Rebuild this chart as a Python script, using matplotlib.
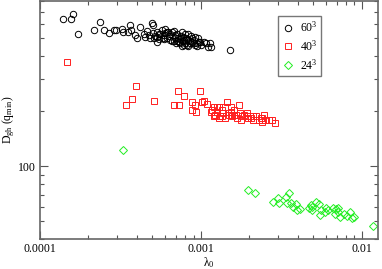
import matplotlib
matplotlib.use("Agg")
import matplotlib.pyplot as plt
from matplotlib.ticker import FixedLocator, FixedFormatter, NullFormatter, LogLocator

plt.rcParams['font.family'] = ['Liberation Serif', 'DejaVu Serif']
plt.rcParams['mathtext.fontset'] = 'custom'
plt.rcParams['mathtext.rm'] = 'Liberation Serif'
plt.rcParams['mathtext.it'] = 'Liberation Serif:italic'

# 60^3 series
x60 = [1.38e-4, 1.55e-4, 1.6e-4, 1.73e-4, 2.18e-4, 2.35e-4, 2.49e-4, 2.7e-4, 2.87e-4, 2.98e-4,
       3.24e-4, 3.28e-4, 3.65e-4, 3.7e-4, 3.9e-4, 4.0e-4, 4.2e-4, 4.6e-4, 4.73e-4, 4.97e-4,
       5.05e-4, 5.05e-4, 5.1e-4, 5.35e-4, 5.46e-4, 5.73e-4, 5.87e-4, 6.14e-4, 6.2e-4, 6.47e-4,
       6.6e-4, 6.8e-4, 6.94e-4, 7.1e-4, 7.3e-4, 7.45e-4, 7.6e-4, 7.75e-4, 8.0e-4, 8.2e-4,
       8.35e-4, 8.6e-4, 8.8e-4, 9.0e-4, 9.2e-4, 9.45e-4, 9.7e-4, 1.08e-3, 1.1e-3, 1.14e-3,
       1.16e-3, 1.51e-3, 5.6e-4, 6.0e-4, 6.8e-4, 7.45e-4, 8.0e-4, 8.2e-4, 8.8e-4, 9.9e-4,
       7.1e-4, 6.47e-4, 5.87e-4, 5.35e-4, 7.75e-4, 8.35e-4, 9.2e-4, 4.4e-4, 6.14e-4, 7.6e-4,
       4.8e-4, 5.2e-4, 5.5e-4, 5.8e-4, 6.3e-4, 6.6e-4, 6.9e-4, 7.2e-4, 7.5e-4, 7.9e-4,
       8.1e-4, 8.5e-4, 8.7e-4, 9.1e-4, 9.6e-4, 1.0e-3, 1.05e-3, 6.0e-4, 7.0e-4, 7.8e-4,
       8.3e-4, 9.4e-4, 5.3e-4, 4.5e-4, 3.5e-4]
y60 = [640, 640, 680, 530, 557, 615, 557, 533, 557, 557,
       565, 540, 590, 557, 520, 505, 575, 545, 520, 610,
       595, 535, 505, 540, 495, 557, 520, 500, 540, 525,
       485, 550, 505, 528, 478, 495, 540, 510, 470, 495,
       528, 485, 500, 470, 510, 455, 478, 470, 450, 470,
       450, 430, 528, 532, 485, 470, 528, 462, 478, 478,
       485, 488, 495, 510, 485, 488, 462, 528, 540, 455,
       500, 515, 530, 505, 515, 540, 520, 500, 515, 490,
       505, 470, 515, 490, 500, 460, 480, 560, 470, 460,
       455, 470, 475, 510, 540]

# 40^3 series
x40 = [1.48e-4, 3.93e-4, 3.74e-4, 3.4e-4, 5.13e-4, 7.2e-4, 7.8e-4, 6.85e-4, 7.35e-4, 9.93e-4,
       8.8e-4, 9.2e-4, 8.8e-4, 9.3e-4, 1.01e-3, 1.05e-3, 1.09e-3, 1.17e-3, 1.2e-3, 1.23e-3,
       1.26e-3, 1.3e-3, 1.32e-3, 1.35e-3, 1.38e-3, 1.42e-3, 1.45e-3, 1.5e-3, 1.53e-3, 1.57e-3,
       1.6e-3, 1.65e-3, 1.68e-3, 1.72e-3, 1.75e-3, 1.8e-3, 1.85e-3, 1.92e-3, 1.97e-3, 2.05e-3,
       2.1e-3, 2.2e-3, 2.28e-3, 2.35e-3, 2.4e-3, 2.45e-3, 2.5e-3, 2.65e-3, 2.75e-3, 2.9e-3,
       1.2e-3, 1.3e-3, 1.35e-3, 1.6e-3, 1.92e-3, 2.1e-3, 2.4e-3, 1.77e-3, 1.42e-3, 1.53e-3,
       1.26e-3, 1.15e-3]
y40 = [370, 273, 233, 217, 228, 257, 243, 215, 215, 259,
       224, 215, 202, 198, 224, 228, 220, 202, 210, 190,
       198, 210, 187, 202, 195, 210, 224, 190, 198, 187,
       202, 190, 184, 215, 195, 187, 190, 187, 184, 184,
       180, 187, 178, 184, 175, 190, 180, 178, 180, 173,
       187, 184, 187, 190, 195, 187, 184, 180, 184, 210,
       210, 198]

# 24^3 series
x24 = [3.28e-4, 1.97e-3, 2.17e-3, 2.8e-3, 3.0e-3, 3.05e-3, 3.4e-3, 3.53e-3, 3.45e-3, 3.65e-3,
       3.9e-3, 3.98e-3, 4.15e-3, 4.7e-3, 4.8e-3, 4.9e-3, 5.2e-3, 5.4e-3, 5.6e-3, 5.5e-3,
       5.9e-3, 6.2e-3, 6.6e-3, 6.8e-3, 7.1e-3, 7.35e-3, 7.8e-3, 8.1e-3, 8.4e-3, 8.7e-3,
       9.0e-3, 1.18e-2, 7.1e-3, 4.9e-3, 3.75e-3, 6.9e-3, 6.0e-3]
y24 = [122, 74.3, 71.8, 63.8, 66.8, 62.8, 67.8, 71.1, 63, 63,
       61.8, 57.8, 58.5, 59.3, 61, 60, 63.6, 62, 57.8, 53.8,
       56, 57.8, 59.3, 55, 56.5, 53, 55, 53.5, 56, 52,
       52.5, 47.4, 59.3, 57.3, 59.5, 58.5, 59.3]

labels = ['60$^3$', '40$^3$', '24$^3$']
xticks = [1e-4, 1e-3, 1e-2]
xticklabels = ['0.0001', '0.001', '0.01']
yticks = [100]
yticklabels = ['100']

fig = plt.figure(figsize=(3.82, 2.69), dpi=100)
ax = fig.add_axes([40/382, 30/269, 338/382, 238/269])

ax.plot(x60, y60, 'o', mfc='none', mec='black', ms=4.6, mew=0.7, label=labels[0])
ax.plot(x40, y40, 's', mfc='none', mec='#ff2020', ms=4.2, mew=0.7, label=labels[1])
ax.plot(x24, y24, 'D', mfc='none', mec='#22ee22', ms=3.6, mew=0.7, label=labels[2])

ax.set_xscale('log')
ax.set_yscale('log')
ax.set_xlim(1e-4, 0.0126)
ax.set_ylim(40, 800)

ax.xaxis.set_major_locator(FixedLocator(xticks))
ax.xaxis.set_major_formatter(FixedFormatter(xticklabels))
ax.xaxis.set_minor_locator(LogLocator(base=10, subs=range(2, 10)))
ax.xaxis.set_minor_formatter(NullFormatter())
ax.yaxis.set_major_locator(FixedLocator(yticks))
ax.yaxis.set_major_formatter(FixedFormatter(yticklabels))
ax.yaxis.set_minor_locator(LogLocator(base=10, subs=range(2, 10)))
ax.yaxis.set_minor_formatter(NullFormatter())

ax.tick_params(which='both', direction='in', top=True, right=True, colors='#555555',
               labelcolor='black', labelsize=8.5, width=0.8, pad=3)
ax.tick_params(which='major', length=6)
ax.tick_params(which='minor', length=3)
for s in ax.spines.values():
    s.set_color('#666666')
    s.set_linewidth(1.2)

ax.set_xlabel('λ$_{\\mathrm{0}}$', fontsize=8.5, labelpad=0)
ax.set_ylabel('D$_{\\mathrm{gh}}$ (q$_{\\mathrm{min}}$)', fontsize=8.5, labelpad=1)

leg = ax.legend(loc='upper left', bbox_to_anchor=(0.704, 0.937), fontsize=8.5, frameon=True,
                fancybox=False, edgecolor='#555555', handletextpad=0.5, borderpad=0.35,
                labelspacing=0.35, handlelength=1.0, borderaxespad=0)
leg.get_frame().set_linewidth(1.0)

fig.savefig('out.png', dpi=100)
